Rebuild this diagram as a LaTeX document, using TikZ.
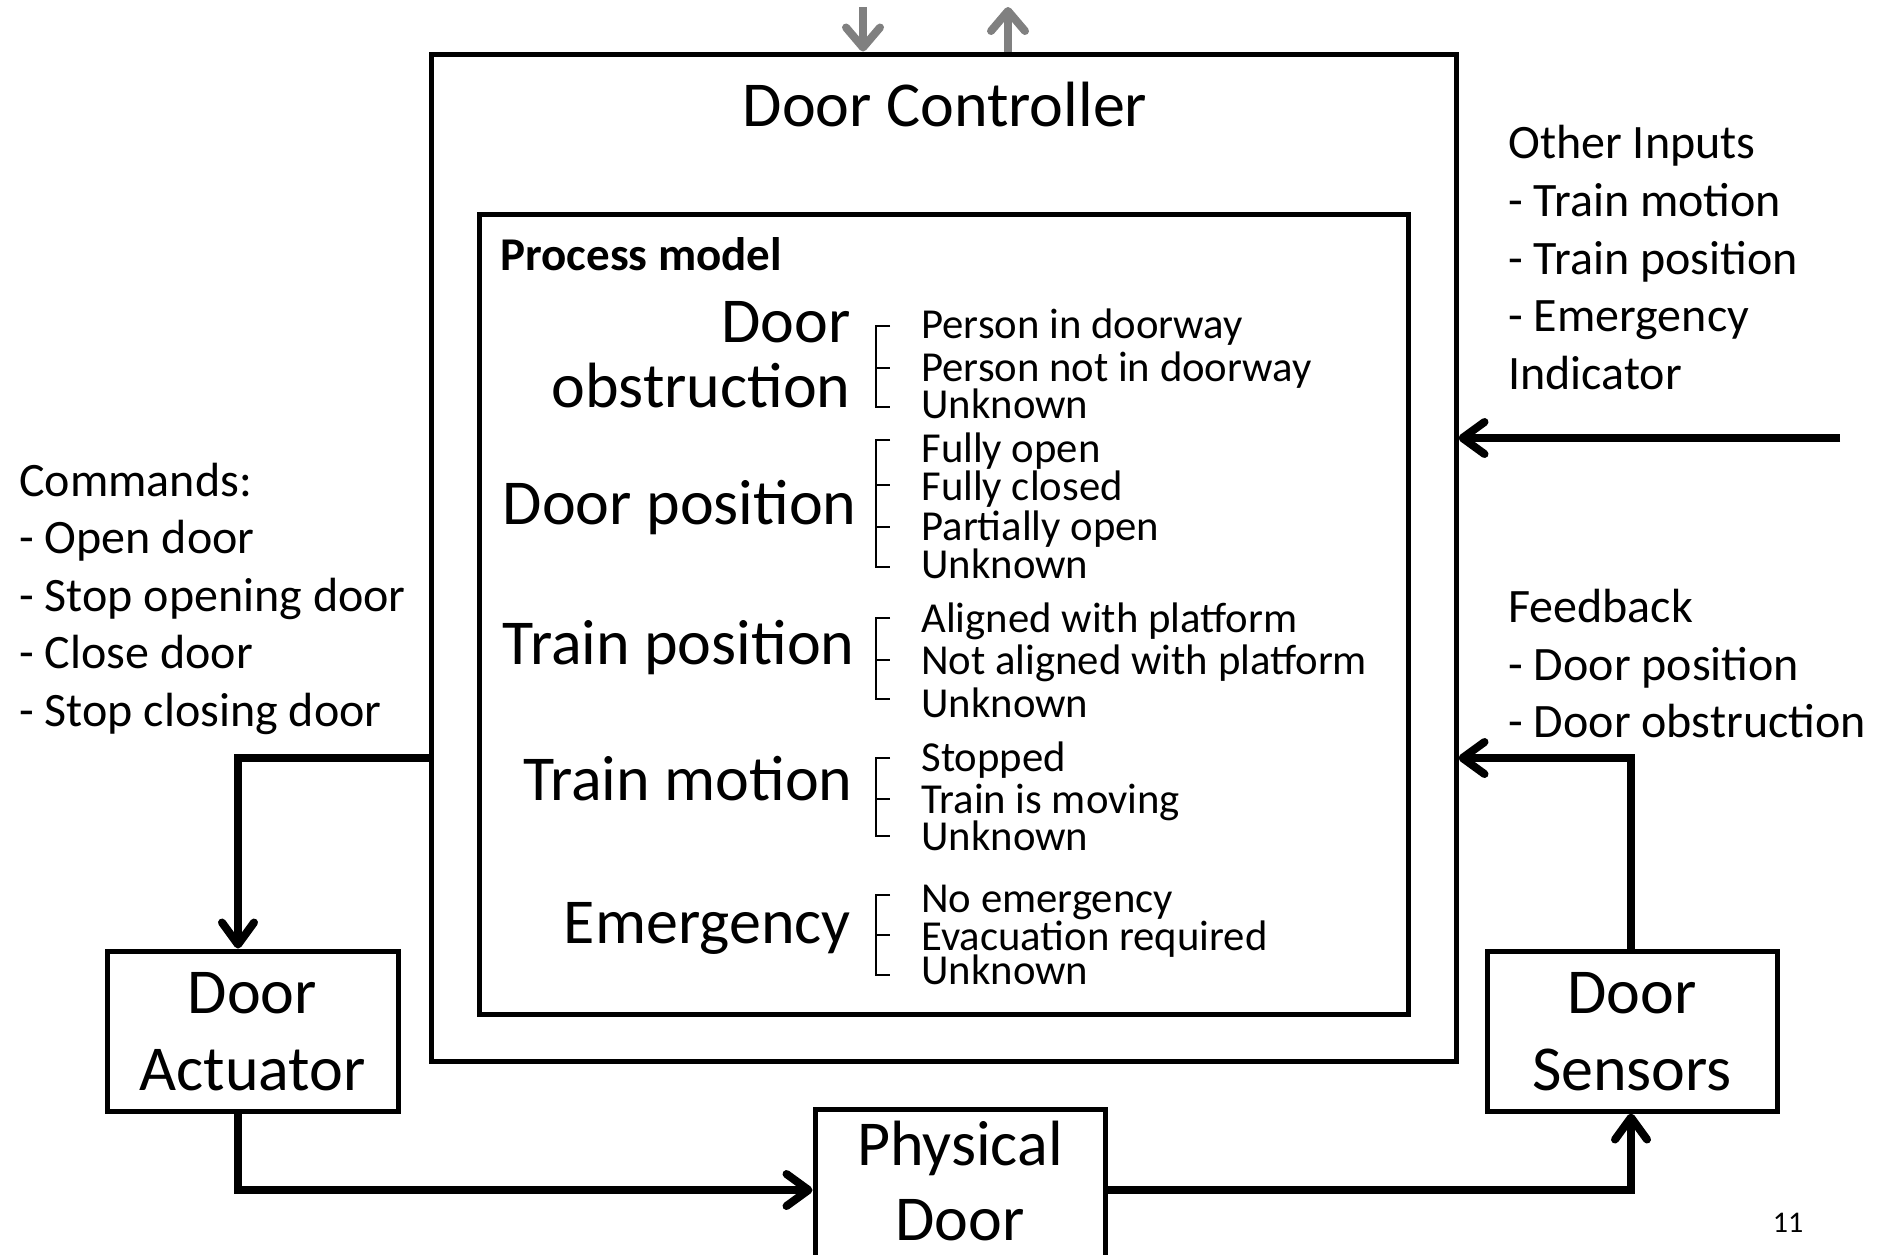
\documentclass[tikz,border=0pt]{standalone}
\usepackage{fontspec}
\setmainfont{Carlito}
\usetikzlibrary{arrows.meta}
\newcommand\fbig{\fontsize{32pt}{38pt}\selectfont}
\newcommand\fside{\fontsize{24pt}{29pt}\selectfont}
\newcommand\fstate{\fontsize{21.35pt}{25pt}\selectfont}
\newcommand\fpm{\fontsize{23.5pt}{28pt}\selectfont\bfseries}
\newcommand\fsmall{\fontsize{15pt}{18pt}\selectfont}
\begin{document}
\begin{tikzpicture}[x=0.5pt,y=-0.5pt,
  box/.style={draw, line width=2.5pt, rectangle, inner sep=0pt},
  txt/.style={inner sep=0pt},
  conn/.style={line width=4pt, -{Straight Barb[length=11pt,width=16pt,round]}},
  grayarrow/.style={line width=4pt, draw={rgb,255:red,128;green,128;blue,128}, -{Straight Barb[length=10pt,width=17pt,round]}},
  brk/.style={line width=1pt}]
\useasboundingbox (0,0) rectangle (1878,1254);
\clip (0,0) rectangle (1878,1254);

% boxes
\node[box, minimum width=512.5pt, minimum height=503.5pt] (ctrl) at (943.5,557.5) {};
\node[box, minimum width=464.5pt, minimum height=400pt] (pmbox) at (943.5,614) {};
\node[box, minimum width=145.5pt, minimum height=80pt] (act) at (252.5,1031) {};
\node[box, minimum width=145pt, minimum height=80pt] (sens) at (1632,1031) {};
\node[box, minimum width=145pt, minimum height=80pt] (phys) at (960,1189) {};

% box texts
\node[txt, anchor=base, font=\fbig] (title) at (945,126) {Door Controller};
\node[txt, anchor=base, font=\fbig] (actA) at (252.5,1013) {Door};
\node[txt, anchor=base, font=\fbig] (actB) at (252.5,1090) {Actuator};
\node[txt, anchor=base, font=\fbig] (sensA) at (1632,1013) {Door};
\node[txt, anchor=base, font=\fbig] (sensB) at (1632,1090) {Sensors};
\node[txt, anchor=base, font=\fbig] (physA) at (960,1165) {Physical};
\node[txt, anchor=base, font=\fbig] (physB) at (960,1240) {Door};

% process model
\node[txt, anchor=base west, font=\fpm] (pm) at (500,270) {Process model};

\node[txt, anchor=base east, font=\fbig] (l1a) at (851,342) {Door};
\node[txt, anchor=base east, font=\fbig] (l1b) at (851,407) {obstruction};
\node[txt, anchor=base east, font=\fbig] (l2) at (857,524) {Door position};
\node[txt, anchor=base east, font=\fbig] (l3) at (855,664) {Train position};
\node[txt, anchor=base east, font=\fbig] (l4) at (853,800) {Train motion};
\node[txt, anchor=base east, font=\fbig] (l5) at (851,943) {Emergency};

% states
\node[txt, anchor=base west, font=\fstate] (s11) at (921,338) {Person in doorway};
\node[txt, anchor=base west, font=\fstate] (s12) at (921,381) {Person not in doorway};
\node[txt, anchor=base west, font=\fstate] (s13) at (921,418) {Unknown};
\node[txt, anchor=base west, font=\fstate] (s21) at (921,462) {Fully open};
\node[txt, anchor=base west, font=\fstate] (s22) at (921,500) {Fully closed};
\node[txt, anchor=base west, font=\fstate] (s23) at (921,540) {Partially open};
\node[txt, anchor=base west, font=\fstate] (s24) at (921,578) {Unknown};
\node[txt, anchor=base west, font=\fstate] (s31) at (921,632) {Aligned with platform};
\node[txt, anchor=base west, font=\fstate] (s32) at (921,674) {Not aligned with platform};
\node[txt, anchor=base west, font=\fstate] (s33) at (921,717) {Unknown};
\node[txt, anchor=base west, font=\fstate] (s41) at (921,771) {Stopped};
\node[txt, anchor=base west, font=\fstate] (s42) at (921,813) {Train is moving};
\node[txt, anchor=base west, font=\fstate] (s43) at (921,850) {Unknown};
\node[txt, anchor=base west, font=\fstate] (s51) at (921,912) {No emergency};
\node[txt, anchor=base west, font=\fstate] (s52) at (921,950) {Evacuation required};
\node[txt, anchor=base west, font=\fstate] (s53) at (921,984) {Unknown};

% brackets
\draw[brk] (890,326) -- (876,326) -- (876,407) -- (890,407);
\draw[brk] (876,368) -- (890,368);
\draw[brk] (890,440) -- (876,440) -- (876,567) -- (890,567);
\draw[brk] (876,485) -- (890,485);
\draw[brk] (876,527) -- (890,527);
\draw[brk] (890,618) -- (876,618) -- (876,699) -- (890,699);
\draw[brk] (876,660) -- (890,660);
\draw[brk] (890,758) -- (876,758) -- (876,836) -- (890,836);
\draw[brk] (876,799) -- (890,799);
\draw[brk] (890,895) -- (876,895) -- (876,975) -- (890,975);
\draw[brk] (876,935) -- (890,935);

% side texts
\node[txt, anchor=base west, font=\fside] (cmd0) at (19,496) {Commands:};
\node[txt, anchor=base west, font=\fside] (cmd1) at (19,553.5) {- Open door};
\node[txt, anchor=base west, font=\fside] (cmd2) at (19,611) {- Stop opening door};
\node[txt, anchor=base west, font=\fside] (cmd3) at (19,668.5) {- Close door};
\node[txt, anchor=base west, font=\fside] (cmd4) at (19,726) {- Stop closing door};

\node[txt, anchor=base west, font=\fside] (oi0) at (1508,158) {Other Inputs};
\node[txt, anchor=base west, font=\fside] (oi1) at (1508,216) {- Train motion};
\node[txt, anchor=base west, font=\fside] (oi2) at (1508,274) {- Train position};
\node[txt, anchor=base west, font=\fside] (oi3) at (1508,331) {- Emergency};
\node[txt, anchor=base west, font=\fside] (oi4) at (1508,389) {Indicator};

\node[txt, anchor=base west, font=\fside] (fb0) at (1508,622) {Feedback};
\node[txt, anchor=base west, font=\fside] (fb1) at (1508,680) {- Door position};
\node[txt, anchor=base west, font=\fside] (fb2) at (1508,737) {- Door obstruction};

\node[txt, anchor=base, font=\fsmall] (pgnum) at (1788,1232) {11};

% connectors
\coordinate (cmdbend) at (238,758);
\draw[conn] (ctrl.west |- cmdbend) -- (cmdbend) -- (cmdbend |- act.north);
\coordinate (actbend) at (238,1190);
\draw[conn] (actbend |- act.south) -- (actbend) -- (actbend -| phys.west);
\coordinate (sensbend) at (1631,1190);
\draw[conn] (phys.east |- sensbend) -- (sensbend) -- (sensbend |- sens.south);
\coordinate (fbbend) at (1631,758);
\draw[conn] (fbbend |- sens.north) -- (fbbend) -- (fbbend -| ctrl.east);
\coordinate (otherin) at (1840,438);
\draw[conn] (otherin) -- (otherin -| ctrl.east);

% top gray arrows
\coordinate (gin) at (863,7);
\draw[grayarrow] (gin) -- (gin |- ctrl.north);
\coordinate (gout) at (1008,7);
\draw[grayarrow] (gout |- ctrl.north) -- (gout);
\end{tikzpicture}
\end{document}
